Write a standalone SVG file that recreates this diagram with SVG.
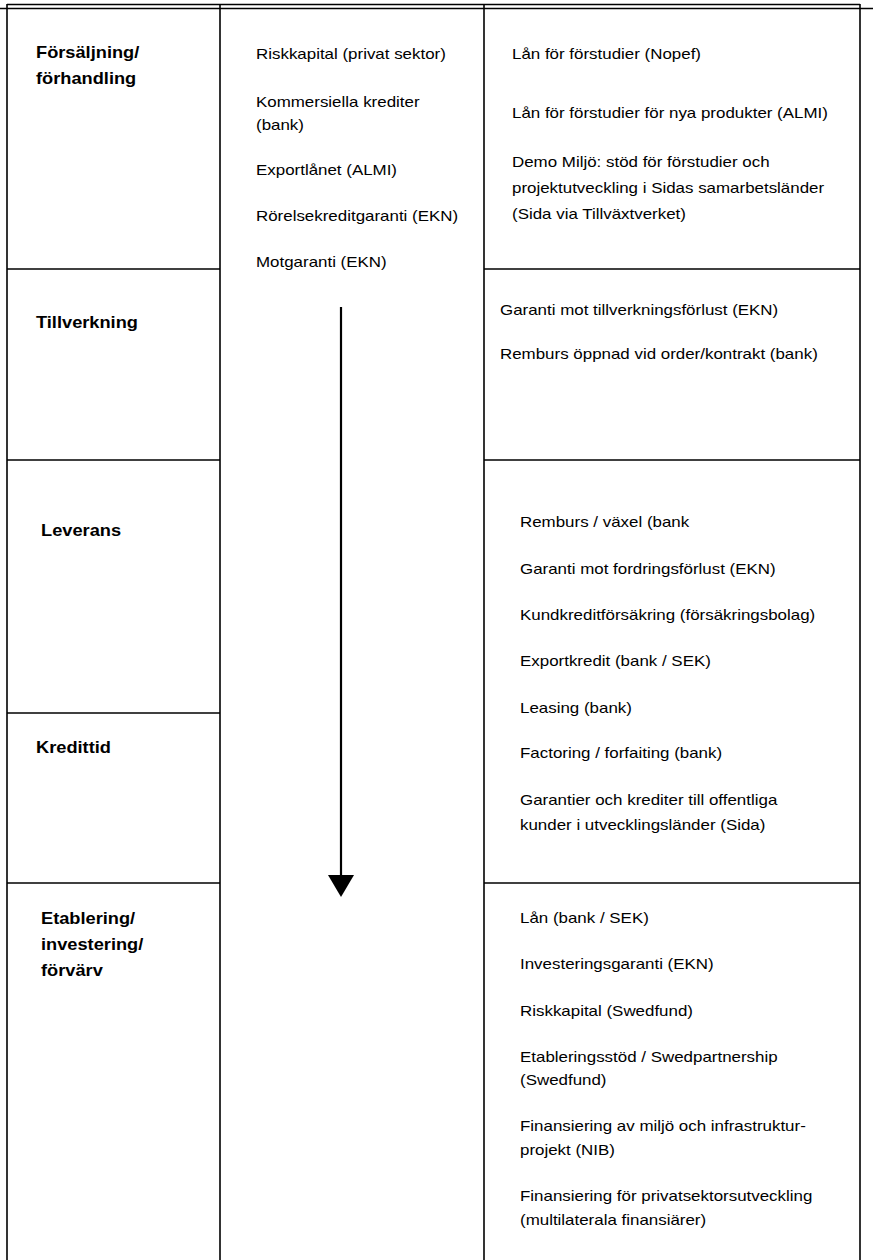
<svg xmlns="http://www.w3.org/2000/svg" width="873" height="1260" viewBox="0 0 873 1260">
<defs>
<style>
.ln{stroke:#000;stroke-width:1.6;fill:none}
.h{font-family:"Liberation Sans",Arial,sans-serif;font-weight:bold;font-size:16px;fill:#000}
.t{font-family:"Liberation Sans",Arial,sans-serif;font-size:14px;fill:#000}
</style>
</defs>
<rect width="873" height="1260" fill="#fff"/>
<g id="grid">
<line class="ln" x1="7" y1="4.5" x2="860" y2="4.5"/>
<line class="ln" x1="0" y1="8.5" x2="873" y2="8.5"/>
<line class="ln" x1="7" y1="4" x2="7" y2="1260"/>
<line class="ln" x1="220" y1="4" x2="220" y2="1260"/>
<line class="ln" x1="484" y1="4" x2="484" y2="1260"/>
<line class="ln" x1="860" y1="4" x2="860" y2="1260"/>
<line class="ln" x1="7" y1="269" x2="220" y2="269"/>
<line class="ln" x1="484" y1="269" x2="860" y2="269"/>
<line class="ln" x1="7" y1="460" x2="220" y2="460"/>
<line class="ln" x1="484" y1="460" x2="860" y2="460"/>
<line class="ln" x1="7" y1="713" x2="220" y2="713"/>
<line class="ln" x1="7" y1="883" x2="220" y2="883"/>
<line class="ln" x1="484" y1="883" x2="860" y2="883"/>
</g>
<g id="connectors">
<line x1="341" y1="307" x2="341" y2="877" stroke="#000" stroke-width="2.2"/>
<polygon points="328,875 354,875 341,897" fill="#000"/>
</g>
<g id="phase-forsaljning" transform="matrix(1.14,0,0,1,36,0)">
<text class="h" x="0" y="58">Försäljning/</text>
<text class="h" x="0" y="84">förhandling</text>
</g>
<g id="phase-tillverkning" transform="matrix(1.14,0,0,1,36,0)"><text class="h" x="0" y="328">Tillverkning</text></g>
<g id="phase-leverans" transform="matrix(1.14,0,0,1,41,0)"><text class="h" x="0" y="536">Leverans</text></g>
<g id="phase-kredittid" transform="matrix(1.14,0,0,1,36,0)"><text class="h" x="0" y="753">Kredittid</text></g>
<g id="phase-etablering" transform="matrix(1.14,0,0,1,41,0)">
<text class="h" x="0" y="924">Etablering/</text>
<text class="h" x="0" y="950">investering/</text>
<text class="h" x="0" y="976">förvärv</text>
</g>
<g id="general-financing" transform="matrix(1.21,0,0,1,256,0)">
<text class="t" x="0" y="59">Riskkapital (privat sektor)</text>
<text class="t" x="0" y="107">Kommersiella krediter</text>
<text class="t" x="0" y="130">(bank)</text>
<text class="t" x="0" y="175">Exportlånet (ALMI)</text>
<text class="t" x="0" y="221">Rörelsekreditgaranti (EKN)</text>
<text class="t" x="0" y="267">Motgaranti (EKN)</text>
</g>
<g id="fin-forsaljning" transform="matrix(1.21,0,0,1,512,0)">
<text class="t" x="0" y="59">Lån för förstudier (Nopef)</text>
<text class="t" x="0" y="118">Lån för förstudier för nya produkter (ALMI)</text>
<text class="t" x="0" y="167">Demo Miljö: stöd för förstudier och</text>
<text class="t" x="0" y="193">projektutveckling i Sidas samarbetsländer</text>
<text class="t" x="0" y="219">(Sida via Tillväxtverket)</text>
</g>
<g id="fin-tillverkning" transform="matrix(1.21,0,0,1,500,0)">
<text class="t" x="0" y="315">Garanti mot tillverkningsförlust (EKN)</text>
<text class="t" x="0" y="359">Remburs öppnad vid order/kontrakt (bank)</text>
</g>
<g id="fin-leverans-kredittid" transform="matrix(1.21,0,0,1,520,0)">
<text class="t" x="0" y="527">Remburs / växel (bank</text>
<text class="t" x="0" y="574">Garanti mot fordringsförlust (EKN)</text>
<text class="t" x="0" y="620">Kundkreditförsäkring (försäkringsbolag)</text>
<text class="t" x="0" y="666">Exportkredit (bank / SEK)</text>
<text class="t" x="0" y="713">Leasing (bank)</text>
<text class="t" x="0" y="758">Factoring / forfaiting (bank)</text>
<text class="t" x="0" y="805">Garantier och krediter till offentliga</text>
<text class="t" x="0" y="830">kunder i utvecklingsländer (Sida)</text>
</g>
<g id="fin-etablering" transform="matrix(1.21,0,0,1,520,0)">
<text class="t" x="0" y="923">Lån (bank / SEK)</text>
<text class="t" x="0" y="969">Investeringsgaranti (EKN)</text>
<text class="t" x="0" y="1016">Riskkapital (Swedfund)</text>
<text class="t" x="0" y="1062">Etableringsstöd / Swedpartnership</text>
<text class="t" x="0" y="1085">(Swedfund)</text>
<text class="t" x="0" y="1131">Finansiering av miljö och infrastruktur-</text>
<text class="t" x="0" y="1155">projekt (NIB)</text>
<text class="t" x="0" y="1201">Finansiering för privatsektorsutveckling</text>
<text class="t" x="0" y="1225">(multilaterala finansiärer)</text>
</g>
</svg>
